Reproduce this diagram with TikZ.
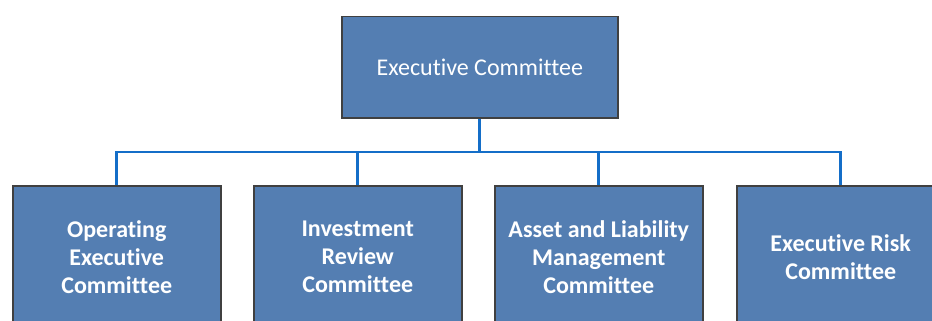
\documentclass[tikz,border=0pt]{standalone}
\usepackage{fontspec}
\setmainfont{Carlito}[Ligatures=NoCommon]
\begin{document}
\begin{tikzpicture}[x=1pt,y=-1pt,
  unit/.style={draw=black!75,line width=1.5pt,fill=boxblue,text=white,
    anchor=north west,inner sep=0pt,align=center},
  link/.style={draw=lineblue,line width=2.6pt}]
\definecolor{boxblue}{RGB}{84,126,178}
\definecolor{lineblue}{RGB}{20,110,200}
\useasboundingbox (0,0) rectangle (932,321);
\clip (0,0) rectangle (932,321);
% top-level committee
\node[unit,minimum width=276pt,minimum height=101pt,font=\fontsize{24}{28}\selectfont]
  (exec) at (341,16) {Executive Committee};
% sub-committees
\foreach \nm/\xx/\txt in {op/12/{Operating\\Executive\\Committee},
                         inv/253/{Investment\\Review\\Committee},
                         alm/494/{Asset and Liability\\Management\\Committee},
                         risk/736/{Executive Risk\\Committee}}
  \node[unit,minimum width=208pt,minimum height=142pt,
    font=\bfseries\fontsize{24}{28}\selectfont] (\nm) at (\xx,185) {\txt};
% connectors
\coordinate (bus) at (0,152);
\draw[link] (exec.south) -- (exec.south |- bus);
\draw[link,line cap=rect] (op.north |- bus) -- (risk.north |- bus);
\foreach \nm in {op,inv,alm,risk}
  \draw[link] (\nm.north |- bus) -- (\nm.north);
\end{tikzpicture}
\end{document}
